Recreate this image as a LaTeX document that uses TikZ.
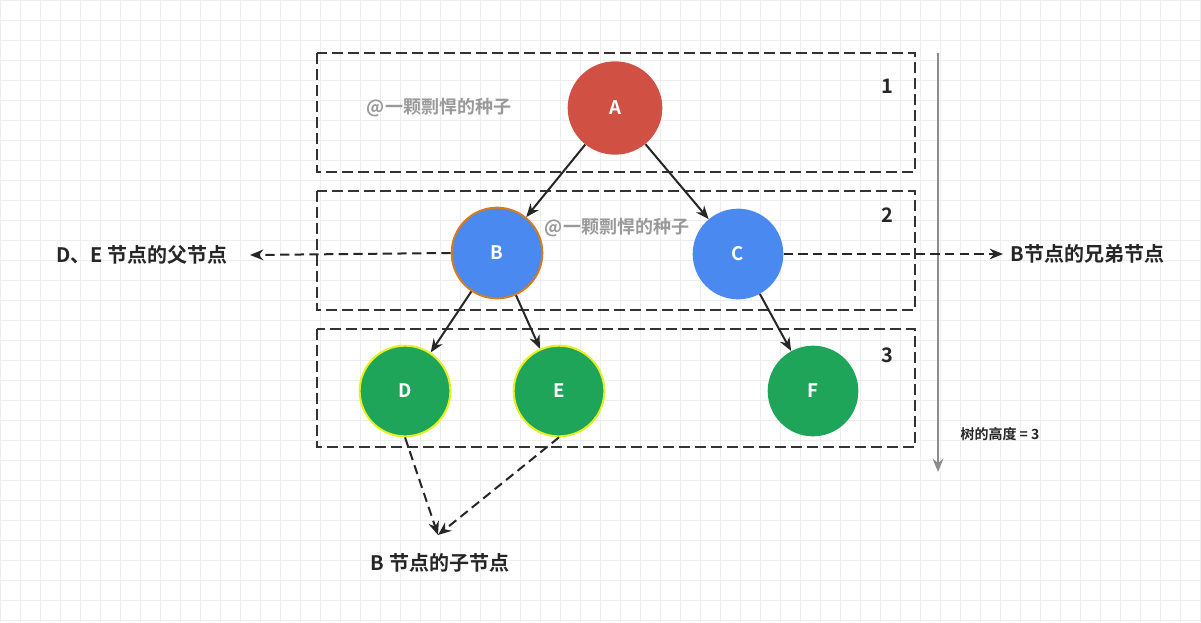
\documentclass[tikz,border=0pt]{standalone}
\usepackage{fontspec}
\setmainfont{Noto Sans CJK SC}[BoldFont={Noto Sans CJK SC Bold}]
\usetikzlibrary{arrows.meta,shapes.geometric}
\begin{document}
\begin{tikzpicture}[x=0.75pt,y=-0.75pt,
 nd/.style={circle,minimum size=68pt,text=white,font=\bfseries\fontsize{14}{16}\selectfont},
 box/.style={draw=black!80,line width=1.6pt,dash pattern=on 8pt off 4pt},
 arr/.style={draw=black!85,line width=1.5pt,-{Stealth[length=10pt,width=8pt]}},
 darr/.style={arr,dash pattern=on 7pt off 4pt},
 lbl/.style={font=\bfseries\fontsize{15}{17}\selectfont,text=black!85},
 wm/.style={font=\bfseries\fontsize{13.5}{15}\selectfont,text=black!40}]
\fill[white] (0,0) rectangle (1201,622);
\useasboundingbox (0,0) rectangle (1201,622);
\foreach \i in {0,20,...,1200} \draw[black!7,line width=0.5pt] (\i,0) -- (\i,622);
\foreach \j in {0,20,...,620} \draw[black!7,line width=0.5pt] (0,\j) -- (1201,\j);
\draw[box] (317,53) rectangle (915,172);
\draw[box] (317,191) rectangle (915,310);
\draw[box] (317,329) rectangle (915,447);
\node[nd,fill={rgb,255:red,208;green,80;blue,68},ellipse,minimum width=71pt,minimum height=70pt] (A) at (615,108) {A};
\node[nd,fill={rgb,255:red,74;green,137;blue,240},draw={rgb,255:red,214;green,124;blue,26},line width=1.5pt] (B) at (497,253) {B};
\node[nd,fill={rgb,255:red,74;green,137;blue,240}] (C) at (738,254) {C};
\node[nd,fill={rgb,255:red,30;green,165;blue,90},draw={rgb,255:red,230;green,240;blue,30},line width=1.5pt] (D) at (405,391) {D};
\node[nd,fill={rgb,255:red,30;green,165;blue,90},draw={rgb,255:red,230;green,240;blue,30},line width=1.5pt] (E) at (559,391) {E};
\node[nd,fill={rgb,255:red,30;green,165;blue,90}] (F) at (813,391) {F};
\node[lbl] (n1) at (887,86) {1};
\node[lbl] (n2) at (887,215) {2};
\node[lbl] (n3) at (887,355) {3};
\node[wm] (w1) at (439,108) {@一颗剽悍的种子};
\node[wm] (w2) at (617,228) {@一颗剽悍的种子};
\draw[arr] (A) -- (B);
\draw[arr] (A) -- (C);
\draw[arr] (B) -- (D);
\draw[arr] (B) -- (E);
\draw[arr] (C) -- (F);
\coordinate (h0) at (938,53);
\coordinate (h1) at (938,472);
\draw[black!45,line width=1.5pt,-{Stealth[length=10pt,width=8pt]}] (h0) -- (h1);
\node[font=\bfseries\fontsize{10.5}{12}\selectfont,text=black!85] (ht) at (1000,434) {树的高度 = 3};
\node[lbl,anchor=east] (lp) at (232,255) {D、E 节点的父节点};
\node[lbl,anchor=west] (rp) at (1006,254) {B节点的兄弟节点};
\node[lbl] (cp) at (440,563) {B 节点的子节点};
\coordinate (lpe) at (250,255);
\coordinate (rpe) at (1003,254);
\coordinate (cpe) at (438,535);
\draw[darr] (B.west) -- (lpe);
\draw[darr] (C.east) -- (rpe);
\draw[darr] (D.south) -- (cpe);
\draw[darr] (E.south) -- (cpe);
\end{tikzpicture}
\end{document}
